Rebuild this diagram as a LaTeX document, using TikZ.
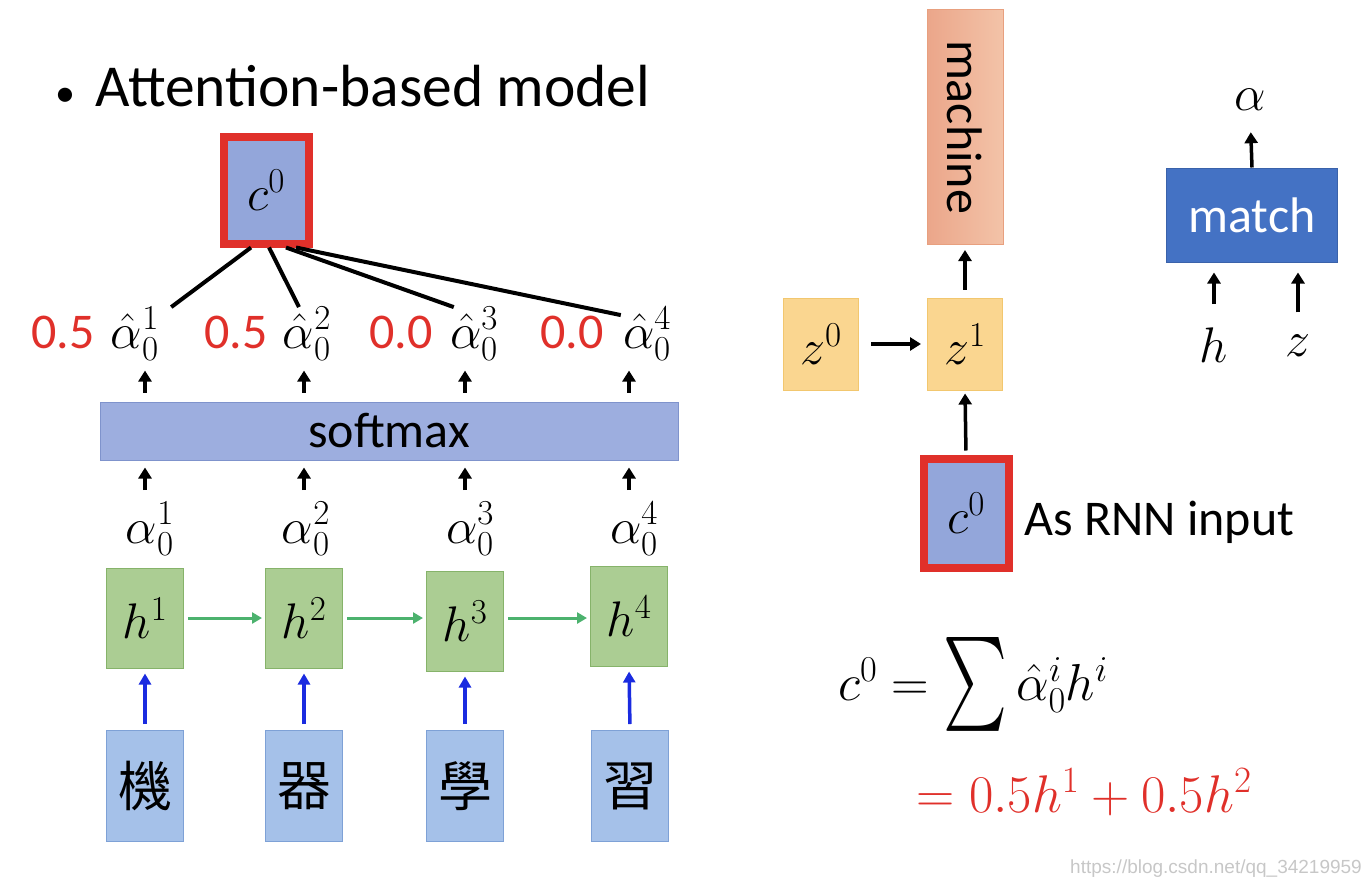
\RequirePackage{fix-cm}
\documentclass[tikz,border=0pt]{standalone}
\usepackage{amsmath}
\usepackage{fontspec}
\usepackage{graphicx}
\setmainfont{Carlito}
\newfontfamily\cjk{Noto Sans CJK TC}
\newfontfamily\webfont{Liberation Sans}
\usetikzlibrary{positioning, arrows.meta}

\definecolor{cblue}{HTML}{93A6DA}
\definecolor{sblue}{HTML}{9DAEDF}
\definecolor{sborder}{HTML}{7F93CC}
\definecolor{xblue}{HTML}{A5C1E9}
\definecolor{xborder}{HTML}{7EA1D6}
\definecolor{hgreen}{HTML}{ABCD93}
\definecolor{hborder}{HTML}{86B36A}
\definecolor{zyellow}{HTML}{FAD690}
\definecolor{zborder}{HTML}{F2C76F}
\definecolor{morange}{HTML}{EBA68A}
\definecolor{morange2}{HTML}{F3C3A8}
\definecolor{mborder}{HTML}{E8A07F}
\definecolor{mblue}{HTML}{4472C4}
\definecolor{mborder2}{HTML}{3A62AA}
\definecolor{warn}{HTML}{E0302A}
\definecolor{rnngreen}{HTML}{4CB26E}
\definecolor{inblue}{HTML}{1A2BE0}

\newcommand{\bigsum}{\mathop{\raisebox{-33pt}{\resizebox{64pt}{96pt}{\raisebox{\depth}{$\sum$}}}}}

\tikzset{
  txt/.style={font=\fontsize{50}{56}\selectfont, inner sep=0pt},
  cbox/.style={txt, draw=warn, line width=8pt, fill=cblue, minimum width=85pt, minimum height=107pt},
  hbox/.style={txt, draw=hborder, line width=1pt, fill=hgreen, minimum width=77pt, minimum height=100pt},
  inbox/.style={draw=xborder, line width=1pt, fill=xblue, minimum width=77pt, minimum height=111pt, inner sep=0pt, font=\fontsize{54}{60}\cjk},
  zbox/.style={txt, draw=zborder, line width=1pt, fill=zyellow, minimum width=75pt, minimum height=92pt},
  up/.style={-{Triangle[length=11pt, width=13pt]}, line width=3.5pt},
}

\begin{document}
\begin{tikzpicture}[x=1pt, y=-1pt]
\useasboundingbox (0, 0) rectangle (1370, 884);

\node[txt, anchor=base west, font=\fontsize{59.5}{64}\selectfont] (title) at (55, 106) {{\fontsize{40}{40}\selectfont\textbullet}\hspace{20pt}Attention-based model};

% left part
\node[cbox] (cL) at (266, 190) {$c^0$};
\node[txt, draw=sborder, line width=1pt, fill=sblue, minimum width=578pt, minimum height=58pt] (soft) at (389, 431) {softmax};

\node[txt, anchor=base, text=warn] (p1) at (63, 348) {0.5};
\node[txt, anchor=base] (ha1) at (135, 348) {$\hat{\alpha}_0^1$};
\node[txt, anchor=base, text=warn] (p2) at (236, 348) {0.5};
\node[txt, anchor=base] (ha2) at (307, 348) {$\hat{\alpha}_0^2$};
\node[txt, anchor=base, text=warn] (p3) at (401, 348) {0.0};
\node[txt, anchor=base] (ha3) at (474, 348) {$\hat{\alpha}_0^3$};
\node[txt, anchor=base, text=warn] (p4) at (572, 348) {0.0};
\node[txt, anchor=base] (ha4) at (647, 348) {$\hat{\alpha}_0^4$};

\node[hbox] (h1) at (145, 618) {$h^1$};
\node[hbox] (h2) at (304, 618) {$h^2$};
\node[hbox] (h3) at (465, 621) {$h^3$};
\node[hbox] (h4) at (629, 616) {$h^4$};

\node[txt, anchor=base] (a1) at (150, 543) {$\alpha_0^1$};
\node[txt, anchor=base] (a2) at (306, 543) {$\alpha_0^2$};
\node[txt, anchor=base] (a3) at (470, 543) {$\alpha_0^3$};
\node[txt, anchor=base] (a4) at (634, 543) {$\alpha_0^4$};

\node[inbox] (x1) at (145, 786) {機};
\node[inbox] (x2) at (304, 786) {器};
\node[inbox] (x3) at (465, 786) {學};
\node[inbox] (x4) at (630, 786) {習};

\draw [line width=4pt] ([xshift=12pt]ha1.north east) -- ([xshift=-15pt]cL.south);
\draw [line width=4pt] ([xshift=-8pt]ha2.north) -- ([xshift=3pt]cL.south);
\draw [line width=4pt] ([xshift=4pt]ha3.north west) -- ([xshift=20pt]cL.south);
\draw [line width=4pt] ([xshift=-2pt, yshift=-8pt]ha4.north west) -- ([xshift=30pt]cL.south);

\draw [up, shorten <=9pt, shorten >=10pt] (h1 |- soft.north) -- (h1 |- ha1.south);
\draw [up, shorten <=9pt, shorten >=10pt] (h2 |- soft.north) -- (h2 |- ha2.south);
\draw [up, shorten <=9pt, shorten >=10pt] (h3 |- soft.north) -- (h3 |- ha3.south);
\draw [up, shorten <=9pt, shorten >=10pt] (h4 |- soft.north) -- (h4 |- ha4.south);

\draw [up, shorten <=12pt, shorten >=7pt] (h1 |- a1.north) -- (h1 |- soft.south);
\draw [up, shorten <=12pt, shorten >=7pt] (h2 |- a2.north) -- (h2 |- soft.south);
\draw [up, shorten <=12pt, shorten >=7pt] (h3 |- a3.north) -- (h3 |- soft.south);
\draw [up, shorten <=12pt, shorten >=7pt] (h4 |- a4.north) -- (h4 |- soft.south);

\draw [-{Triangle[length=10pt, width=11pt]}, line width=3pt, rnngreen, shorten <=4pt, shorten >=3pt] (h1.east) -- (h2.west);
\draw [-{Triangle[length=10pt, width=11pt]}, line width=3pt, rnngreen, shorten <=4pt, shorten >=3pt] (h2.east) -- (h3.west |- h2.east);
\draw [-{Triangle[length=10pt, width=11pt]}, line width=3pt, rnngreen, shorten <=4pt, shorten >=3pt] (h3.east |- h2.east) -- (h4.west |- h2.east);

\draw [-{Triangle[length=11pt, width=12pt]}, line width=3.5pt, inblue, shorten <=6pt, shorten >=5pt] (x1.north) -- (h1.south);
\draw [-{Triangle[length=11pt, width=12pt]}, line width=3.5pt, inblue, shorten <=6pt, shorten >=5pt] (x2.north) -- (h2.south);
\draw [-{Triangle[length=11pt, width=12pt]}, line width=3.5pt, inblue, shorten <=6pt, shorten >=5pt] (x3.north) -- (h3.south);
\draw [-{Triangle[length=11pt, width=12pt]}, line width=3.5pt, inblue, shorten <=6pt, shorten >=5pt] (x4.north) -- (h4.south);

% right part
\node[txt, draw=mborder, line width=1pt, left color=morange, right color=morange2, minimum width=76pt, minimum height=235pt] (mach) at (965, 127) {\rotatebox{-90}{machine}};
\node[zbox] (z0) at (821, 344) {$z^0$};
\node[zbox] (z1) at (965, 344) {$z^1$};
\node[cbox, minimum height=109pt] (cR) at (966, 513) {$c^0$};
\node[txt, anchor=west] (rnn) at (1024, 522) {As RNN input};

\draw [up, shorten <=12pt, shorten >=6pt] (z0.east) -- (z1.west);
\draw [up, shorten <=4pt, shorten >=3pt] (cR.north) -- (z1.south);
\draw [up, shorten <=8pt, shorten >=5pt] (z1.north) -- (mach.south);

\node[txt, fill=mblue, draw=mborder2, line width=1pt, text=white, minimum width=171pt, minimum height=94pt] (match) at (1252, 215) {match};
\node[txt, anchor=base] (alpha) at (1250, 110) {$\alpha$};
\node[txt, anchor=base] (hin) at (1214, 362) {$h$};
\node[txt, anchor=base] (zin) at (1298, 356) {$z$};

\draw [up, shorten >=22pt] (match.north) -- (alpha.south);
\draw [up, shorten <=23pt, shorten >=10pt] (hin.north) -- (hin.north |- match.south);
\draw [up, shorten <=22pt, shorten >=10pt] (zin.north) -- (zin.north |- match.south);

\node[anchor=base west, inner sep=0pt, font=\fontsize{52}{58}\selectfont] (sum) at (838, 700) {$c^0 = \bigsum \hat{\alpha}_0^i h^i$};
\node[anchor=base west, inner sep=0pt, text=warn, font=\fontsize{53}{58}\selectfont] (res) at (916, 812) {$= 0.5h^1 + 0.5h^2$};

\node[anchor=base east, inner sep=0pt, text=black!22, font=\fontsize{19}{22}\webfont] (web) at (1362, 873) {https://blog.csdn.net/qq\_34219959};
\end{tikzpicture}
\end{document}
